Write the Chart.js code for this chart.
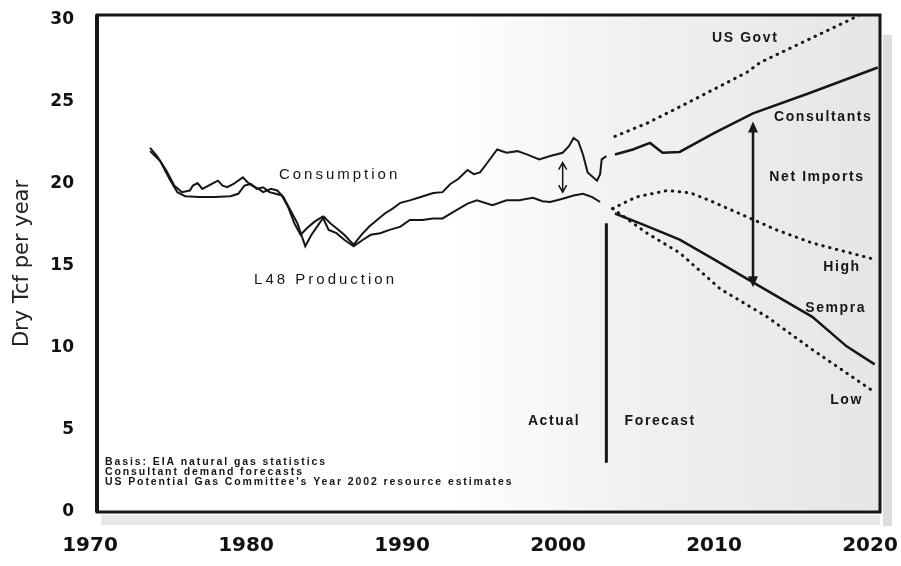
<!DOCTYPE html>
<html>
<head>
<meta charset="utf-8">
<script src="https://cdn.jsdelivr.net/npm/chart.js@4.4.0/dist/chart.umd.min.js"></script>
<style>
  html, body { margin: 0; padding: 0; background: #fff; }
  #wrap { width: 901px; height: 566px; position: relative; }
</style>
</head>
<body>
<div id="wrap"><canvas id="gasChart"></canvas></div>
<script>
// axis ticks
const xTicks = [1970, 1980, 1990, 2000, 2010, 2020];
const yTicks = [0, 5, 10, 15, 20, 25, 30];

// historical
const consumptionYears = [1973.85, 1974.3, 1974.9, 1975.4, 1975.9, 1976.4, 1976.6, 1976.9, 1977.2, 1977.6, 1977.9, 1978.2, 1978.5, 1978.8, 1979.2, 1979.8, 1980.1, 1980.4, 1980.8, 1981.1, 1981.6, 1982.0, 1982.4, 1982.9, 1983.3, 1983.8, 1984.2, 1984.7, 1985.0, 1985.4, 1985.8, 1986.3, 1986.9, 1987.4, 1987.9, 1988.4, 1988.9, 1989.4, 1989.9, 1990.5, 1991.2, 1992.0, 1992.6, 1993.1, 1993.6, 1994.2, 1994.6, 1995.0, 1995.4, 1996.1, 1996.7, 1997.4, 1998.0, 1998.8, 1999.5, 2000.3, 2000.7, 2001.0, 2001.3, 2001.6, 2001.9, 2002.5, 2002.7, 2002.8, 2003.1];
const consumptionValues = [22.2, 21.7, 20.8, 19.9, 19.5, 19.6, 19.9, 20.05, 19.7, 19.9, 20.05, 20.2, 19.9, 19.8, 20.0, 20.4, 20.1, 19.9, 19.7, 19.5, 19.7, 19.6, 19.2, 18.3, 17.6, 16.2, 16.9, 17.6, 18.0, 17.6, 17.3, 16.9, 16.3, 16.9, 17.4, 17.8, 18.2, 18.5, 18.85, 19.0, 19.2, 19.45, 19.5, 20.0, 20.3, 20.85, 20.6, 20.7, 21.2, 22.1, 21.9, 22.0, 21.8, 21.5, 21.7, 21.9, 22.3, 22.8, 22.6, 21.8, 20.7, 20.2, 20.6, 21.5, 21.7];

const productionYears = [1973.85, 1974.5, 1975.1, 1975.6, 1976.1, 1977.0, 1978.0, 1979.0, 1979.5, 1979.9, 1980.3, 1980.7, 1981.1, 1981.5, 1981.9, 1982.3, 1982.7, 1983.1, 1983.5, 1983.9, 1984.4, 1984.9, 1985.3, 1985.8, 1986.3, 1986.9, 1987.5, 1988.0, 1988.6, 1989.2, 1989.9, 1990.5, 1991.3, 1992.0, 1992.6, 1993.3, 1994.2, 1994.8, 1995.8, 1996.7, 1997.5, 1998.4, 1999.0, 1999.5, 2000.3, 2001.0, 2001.6, 2002.2, 2002.7];
const productionValues = [22.0, 21.4, 20.3, 19.5, 19.25, 19.2, 19.2, 19.25, 19.4, 19.9, 20.0, 19.7, 19.8, 19.5, 19.4, 19.3, 18.6, 17.6, 16.9, 17.3, 17.7, 18.0, 17.2, 17.0, 16.6, 16.2, 16.6, 16.9, 17.0, 17.2, 17.4, 17.8, 17.8, 17.9, 17.9, 18.3, 18.8, 19.0, 18.7, 19.0, 19.0, 19.15, 18.95, 18.9, 19.1, 19.3, 19.4, 19.2, 18.9];

// forecasts
const usGovtYears = [2003.65, 2005.7, 2007.8, 2012.1, 2012.95, 2018.7, 2020.7];
const usGovtValues = [22.9, 23.7, 24.7, 26.8, 27.4, 30.0, 31.0];

const consultantsYears = [2003.65, 2004.8, 2005.9, 2006.7, 2007.8, 2010.0, 2012.5, 2016.0, 2020.5];
const consultantsValues = [21.8, 22.1, 22.5, 21.9, 21.95, 23.1, 24.3, 25.5, 27.1];

const highYears = [2003.5, 2005.0, 2007.0, 2008.5, 2009.7, 2012.1, 2014.0, 2016.3, 2020.3];
const highValues = [18.5, 19.2, 19.6, 19.45, 19.0, 18.0, 17.2, 16.4, 15.4];

const sempraYears = [2003.65, 2005.5, 2007.8, 2010.0, 2012.5, 2016.3, 2018.5, 2020.3];
const sempraValues = [18.2, 17.5, 16.6, 15.4, 14.0, 11.9, 10.1, 9.0];

const lowYears = [2003.5, 2005.7, 2007.8, 2010.4, 2013.4, 2016.3, 2020.3];
const lowValues = [18.5, 17.0, 15.8, 13.6, 11.9, 9.9, 7.3];

// actual / forecast divider and arrows: [year, from, to]
const dividerLine = [2003.1, 3.0, 17.6];
const netImportsArrow = [2012.5, 13.7, 23.8];
const gapArrow = [2000.3, 19.5, 21.3];

// text labels
const labelTexts = ['Consumption', 'L48 Production', 'US Govt', 'Consultants', 'Net Imports', 'High', 'Sempra', 'Low', 'Actual', 'Forecast'];
const labelYears = [1986.0, 1985.1, 2012.0, 2017.0, 2016.6, 2018.2, 2017.8, 2018.5, 1999.75, 2006.55];
const labelValues = [20.55, 14.15, 28.9, 24.1, 20.4, 14.9, 12.4, 6.8, 5.55, 5.55];

const sourceNotes = [
    'Basis: EIA natural gas statistics',
    'Consultant demand forecasts',
    "US Potential Gas Committee's Year 2002 resource estimates"
];

const INK = '#161616';
const pts = (xs, ys) => xs.map((x, i) => ({ x: x, y: ys[i] }));

function solid(label, xs, ys, width) {
    return { label, data: pts(xs, ys), borderColor: INK, borderWidth: width, pointRadius: 0, tension: 0, fill: false };
}
function dotted(label, xs, ys) {
    return { label, data: pts(xs, ys), borderColor: INK, borderWidth: 3, borderDash: [0.5, 6.5], borderCapStyle: 'round', pointRadius: 0, tension: 0, fill: false };
}

// faint scan texture on the forecast side
const paperPlugin = {
    id: 'paper',
    beforeDatasetsDraw(chart) {
        const { ctx, chartArea: a, scales: { x } } = chart;
        const g = ctx.createLinearGradient(x.getPixelForValue(1993), 0, a.right, 0);
        g.addColorStop(0, 'rgba(120,120,120,0)');
        g.addColorStop(0.4, 'rgba(120,120,120,0.1)');
        g.addColorStop(1, 'rgba(120,120,120,0.19)');
        ctx.save();
        ctx.fillStyle = g;
        ctx.fillRect(a.left, a.top, a.right - a.left, a.bottom - a.top);
        ctx.fillStyle = 'rgba(120,120,120,0.16)';
        ctx.fillRect(a.left + 4, a.bottom + 3, a.right - a.left - 4, 10);
        ctx.fillStyle = 'rgba(120,120,120,0.25)';
        ctx.fillRect(a.right + 3, a.top + 20, 9, a.bottom - a.top - 6);
        ctx.restore();
    }
};

function spacedText(ctx, text, px, py, font, spacing, align) {
    ctx.font = font;
    ctx.letterSpacing = spacing + 'px';
    ctx.textAlign = align || 'center';
    ctx.textBaseline = 'middle';
    ctx.fillText(text, px, py);
    ctx.letterSpacing = '0px';
}

const annotatePlugin = {
    id: 'annotate',
    afterDatasetsDraw(chart) {
        const { ctx, chartArea: a, scales: { x, y } } = chart;
        ctx.save();
        ctx.fillStyle = INK;
        ctx.strokeStyle = INK;

        // net imports arrow with filled heads
        const ax = x.getPixelForValue(netImportsArrow[0]);
        const aLo = y.getPixelForValue(netImportsArrow[1]);
        const aHi = y.getPixelForValue(netImportsArrow[2]);
        ctx.lineWidth = 2.5;
        ctx.beginPath(); ctx.moveTo(ax, aHi + 8); ctx.lineTo(ax, aLo - 8); ctx.stroke();
        ctx.beginPath(); ctx.moveTo(ax, aHi); ctx.lineTo(ax - 5, aHi + 11); ctx.lineTo(ax + 5, aHi + 11); ctx.closePath(); ctx.fill();
        ctx.beginPath(); ctx.moveTo(ax, aLo); ctx.lineTo(ax - 5, aLo - 11); ctx.lineTo(ax + 5, aLo - 11); ctx.closePath(); ctx.fill();

        // small gap arrow with open heads
        const gx = x.getPixelForValue(gapArrow[0]);
        const gLo = y.getPixelForValue(gapArrow[1]);
        const gHi = y.getPixelForValue(gapArrow[2]);
        ctx.lineWidth = 1.5;
        ctx.beginPath();
        ctx.moveTo(gx, gHi); ctx.lineTo(gx, gLo);
        ctx.moveTo(gx - 4, gHi + 7); ctx.lineTo(gx, gHi); ctx.lineTo(gx + 4, gHi + 7);
        ctx.moveTo(gx - 4, gLo - 7); ctx.lineTo(gx, gLo); ctx.lineTo(gx + 4, gLo - 7);
        ctx.stroke();

        // frame
        ctx.lineWidth = 3;
        ctx.strokeRect(a.left, a.top, a.right - a.left, a.bottom - a.top);
        ctx.lineWidth = 4;
        ctx.beginPath(); ctx.moveTo(a.left, a.top); ctx.lineTo(a.left, a.bottom); ctx.stroke();

        // labels
        labelTexts.forEach((t, i) => {
            const regular = i < 2;
            spacedText(ctx, t, x.getPixelForValue(labelYears[i]), y.getPixelForValue(labelValues[i]),
                regular ? '15px "Liberation Sans", Arial, sans-serif' : 'bold 14px "Liberation Sans", Arial, sans-serif',
                regular ? 3 : 1.6);
        });

        // source notes
        sourceNotes.forEach((t, i) => {
            spacedText(ctx, t, a.left + 8, a.bottom - 50 + i * 10, 'bold 10.5px "Liberation Sans", Arial, sans-serif', 1.9, 'left');
        });
        ctx.restore();
    }
};

const ctx = document.getElementById('gasChart').getContext('2d');
new Chart(ctx, {
    type: 'line',
    data: {
        datasets: [
            solid('Consumption', consumptionYears, consumptionValues, 2),
            solid('L48 Production', productionYears, productionValues, 2),
            dotted('US Govt', usGovtYears, usGovtValues),
            solid('Consultants', consultantsYears, consultantsValues, 2.5),
            dotted('High', highYears, highValues),
            solid('Sempra', sempraYears, sempraValues, 2.5),
            dotted('Low', lowYears, lowValues),
            solid('Actual / Forecast', [dividerLine[0], dividerLine[0]], [dividerLine[1], dividerLine[2]], 3)
        ]
    },
    options: {
        responsive: true,
        maintainAspectRatio: false,
        animation: false,
        layout: { autoPadding: false, padding: { top: 15, right: 21, left: 0, bottom: 0 } },
        plugins: { legend: { display: false }, tooltip: { enabled: false } },
        scales: {
            x: {
                type: 'linear', min: 1970.45, max: 2020.64,
                afterBuildTicks: (s) => { s.ticks = xTicks.map(v => ({ value: v })); },
                afterFit: (s) => { s.height = 54; s.paddingLeft = 0; s.paddingRight = 0; },
                grid: { display: false }, border: { display: false },
                ticks: { autoSkip: false, maxRotation: 0, padding: 14, color: '#111', callback: (v) => String(v),
                    font: { family: '"DejaVu Sans", sans-serif', size: 20, weight: 'bold' } }
            },
            y: {
                type: 'linear', min: 0, max: 30.3,
                afterBuildTicks: (s) => { s.ticks = yTicks.map(v => ({ value: v })); },
                afterFit: (s) => { s.width = 97; s.paddingTop = 0; s.paddingBottom = 0; },
                grid: { display: false }, border: { display: false },
                ticks: { padding: 15, color: '#111', callback: (v) => String(v),
                    font: { family: '"DejaVu Sans", sans-serif', size: 17, weight: 'bold' } },
                title: { display: true, text: 'Dry Tcf per year', color: '#222', padding: { top: 10, bottom: 0 },
                    font: { family: '"DejaVu Sans", sans-serif', size: 21 } }
            }
        }
    },
    plugins: [paperPlugin, annotatePlugin]
});
</script>
</body>
</html>
